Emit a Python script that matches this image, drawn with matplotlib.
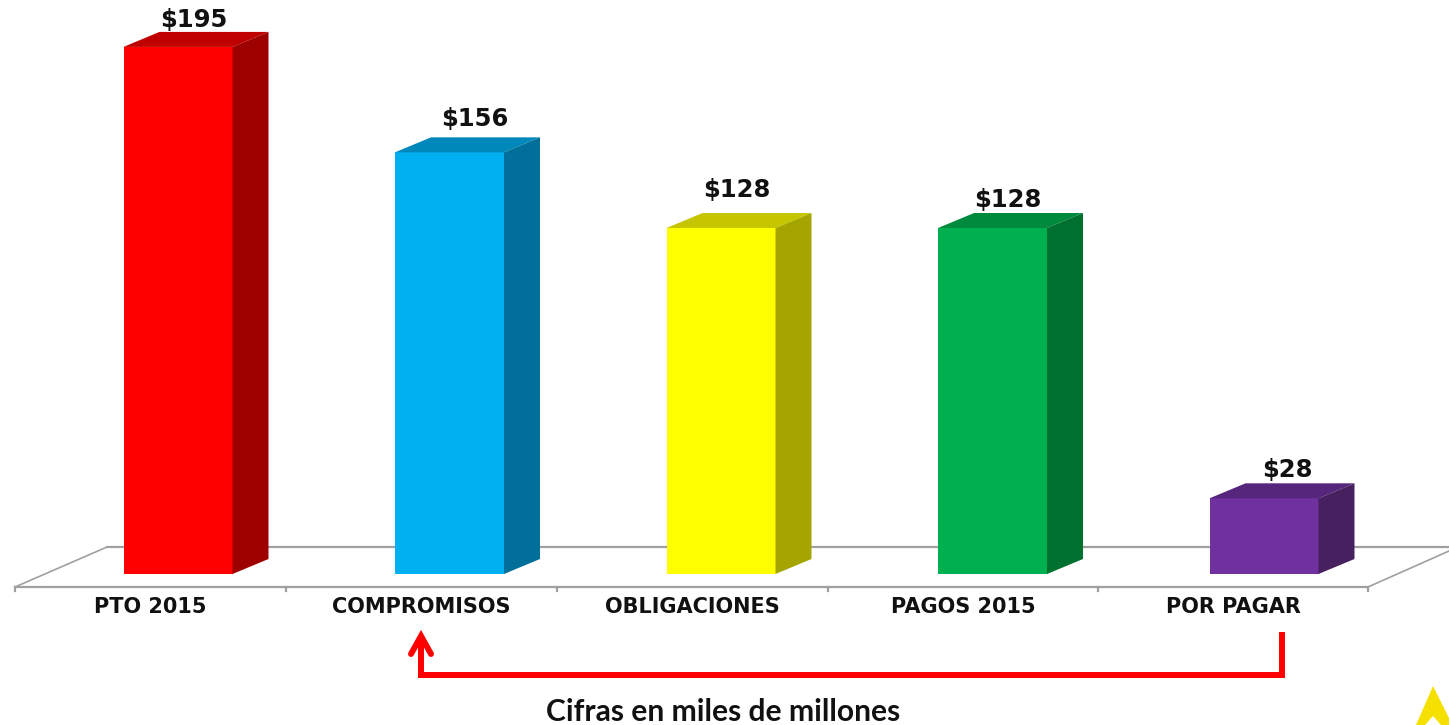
import matplotlib
matplotlib.use("Agg")
import matplotlib.pyplot as plt
from matplotlib.patches import Polygon

categories = ["PTO 2015", "COMPROMISOS", "OBLIGACIONES", "PAGOS 2015", "POR PAGAR"]
values = [195, 156, 128, 128, 28]
value_labels = ["$195", "$156", "$128", "$128", "$28"]
front_colors = ["#FF0000", "#00B0F0", "#FFFF00", "#00B050", "#7030A0"]
top_colors = ["#C00000", "#0088BA", "#C6C600", "#008A3E", "#56267D"]
side_colors = ["#9E0000", "#00709A", "#A5A500", "#00702F", "#46205F"]

# escala: px de la imagen
W, H = 1449, 725
x_step = 271.5
y_step = 2.703
x0_px = 178
y0_px = 574

fig = plt.figure(figsize=(W / 100, H / 100), dpi=100)
ax = fig.add_axes([0, 0, 1, 1])
ax.set_xlim((0 - x0_px) / x_step, (W - x0_px) / x_step)
ax.set_ylim((y0_px - H) / y_step, y0_px / y_step)
ax.axis("off")

# capa en pixeles para lo que no es dato
deco = fig.add_axes([0, 0, 1, 1])
deco.set_xlim(0, W)
deco.set_ylim(H, 0)
deco.axis("off")
deco.patch.set_alpha(0)

bar_width = 109 / x_step
depth_x = 36 / x_step
depth_y = 15 / y_step

# piso del grafico
floor = "#A0A0A0"
tick_px = [15, 285.5, 557, 828, 1098, 1368]
deco.plot([15, 1368], [587, 587], color=floor, lw=1.6, zorder=1)
deco.plot([107, 1449], [547, 547], color=floor, lw=1.6, zorder=0)
deco.plot([15, 107], [587, 547], color=floor, lw=1.2, zorder=1)
deco.plot([1368, 1449], [587, 551], color=floor, lw=1.2, zorder=1)
for tx in tick_px:
    deco.plot([tx, tx], [587, 591], color=floor, lw=1.6, zorder=1)
ax.set_zorder(2)
deco.set_zorder(1)

positions = list(range(len(categories)))
ax.bar(positions, values, width=bar_width, color=front_colors, zorder=3)
for x, v, top, side in zip(positions, values, top_colors, side_colors):
    left, right = x - bar_width / 2, x + bar_width / 2
    ax.add_patch(Polygon([(left, v), (right, v), (right + depth_x, v + depth_y), (left + depth_x, v + depth_y)],
                         closed=True, facecolor=top, edgecolor="none", zorder=3))
    ax.add_patch(Polygon([(right, 0), (right + depth_x, depth_y), (right + depth_x, v + depth_y), (right, v)],
                         closed=True, facecolor=side, edgecolor="none", zorder=3))

# etiquetas de valor
label_dx = [16, 25, 16, 15, 23]
label_dy = [27, 33, 38, 28, 28]
for x, v, txt, dx, dy in zip(positions, values, value_labels, label_dx, label_dy):
    ax.annotate(txt, (x, v), xytext=(dx * 0.72, dy * 0.72), textcoords="offset points",
                ha="center", va="center", fontsize=17.5, fontweight="bold", color="#111111", family="DejaVu Sans")

# nombres centrados entre marcas
for i, name in enumerate(categories):
    deco.text((tick_px[i] + tick_px[i + 1]) / 2, 607, name, ha="center", va="center",
              fontsize=15, fontweight="bold", color="#111111", family="DejaVu Sans")

# flecha roja
deco.plot([1282, 1282, 421, 421], [632, 675, 675, 636], color="#FF0000", lw=4.3,
          solid_joinstyle="miter", solid_capstyle="butt", zorder=4)
deco.plot([411, 421, 431], [654, 636, 654], color="#FF0000", lw=4.3,
          solid_joinstyle="miter", solid_capstyle="round", zorder=4)

deco.text(723, 712, "Cifras en miles de millones", ha="center", va="center",
          fontsize=21.6, fontweight="bold", family="Lato", color="#111111")

# triangulo amarillo de la esquina
deco.add_patch(Polygon([(1433, 686), (1449, 718), (1449, 725), (1441, 725), (1433, 716), (1425, 725), (1416, 725)],
                       closed=True, facecolor="#F5E000", edgecolor="none"))

fig.savefig("out.png", dpi=100, facecolor="white")
